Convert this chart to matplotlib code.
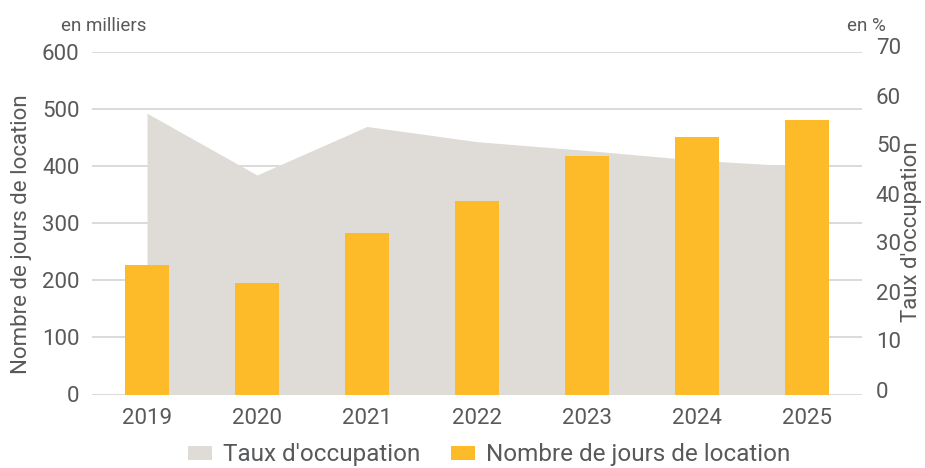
import matplotlib
matplotlib.use("Agg")
import matplotlib.pyplot as plt
from matplotlib.patches import Patch
from matplotlib.transforms import ScaledTranslation

years = ["2019", "2020", "2021", "2022", "2023", "2024", "2025"]
jours_location = [227, 195, 283, 339, 418, 450, 480]      # en milliers
taux_occupation = [57.4, 44.8, 54.7, 51.6, 49.8, 47.8, 46.5]  # en %

left_ticks = [0, 100, 200, 300, 400, 500, 600]
right_ticks = [0, 10, 20, 30, 40, 50, 60, 70]

BAR = "#FDBB2A"
AREA = "#DFDCD8"
TXT = "#58595B"
GRID = "#D4D4D4"

plt.rcParams["font.family"] = ["Roboto", "DejaVu Sans"]

fig = plt.figure(figsize=(9.25, 4.68), dpi=100)
ax = fig.add_axes([92/925, 73.5/468, 770/925, 343/468])
ax2 = ax.twinx()

x = list(range(len(years)))

ax.set_xlim(-0.5, len(years) - 0.5)
ax.set_ylim(0, 600)
ax2.set_ylim(0, 70)

ax.set_axisbelow(True)
ax.yaxis.grid(True, color=GRID, linewidth=1.2)
ax.fill_between(x, 0, taux_occupation, color=AREA, linewidth=0,
                transform=ax2.transData, zorder=1)
ax.bar(x, jours_location, width=0.4, color=BAR, zorder=2)

ax.set_xticks(x)
ax.set_xticklabels(years)
ax.set_yticks(left_ticks)
ax2.set_yticks(right_ticks)

for a in (ax, ax2):
    for s in a.spines.values():
        s.set_visible(False)
    a.tick_params(length=0, labelsize=16, labelcolor=TXT)
ax.tick_params(axis="y", pad=9)
ax.tick_params(axis="x", pad=10)
ax2.tick_params(axis="y", pad=10)

fig.canvas.draw()
for lbl in ax2.get_yticklabels():
    lbl.set_transform(lbl.get_transform() + ScaledTranslation(0, 5/100, fig.dpi_scale_trans))

fig.text(61/925, 1 - 26/468, "en milliers", fontsize=13.5, color=TXT,
         ha="left", va="center")
fig.text(886/925, 1 - 26/468, "en %", fontsize=13.5, color=TXT,
         ha="right", va="center")
fig.text(22/925, 1 - 234/468, "Nombre de jours de location", fontsize=16,
         color=TXT, rotation=90, ha="center", va="center")
fig.text(912/925, 1 - 232/468, "Taux d'occupation", fontsize=16,
         color=TXT, rotation=90, ha="center", va="center")

handles = [Patch(facecolor=AREA, edgecolor="none", label="Taux d'occupation"),
           Patch(facecolor=BAR, edgecolor="none", label="Nombre de jours de location")]
fig.legend(handles=handles, loc="center", bbox_to_anchor=(489/925, 1 - 455/468),
           ncol=2, frameon=False, fontsize=17.5, labelcolor=TXT,
           handlelength=1.0, handleheight=0.55, handletextpad=0.45,
           columnspacing=1.25, borderpad=0, borderaxespad=0)

fig.savefig("out.png", dpi=100)
